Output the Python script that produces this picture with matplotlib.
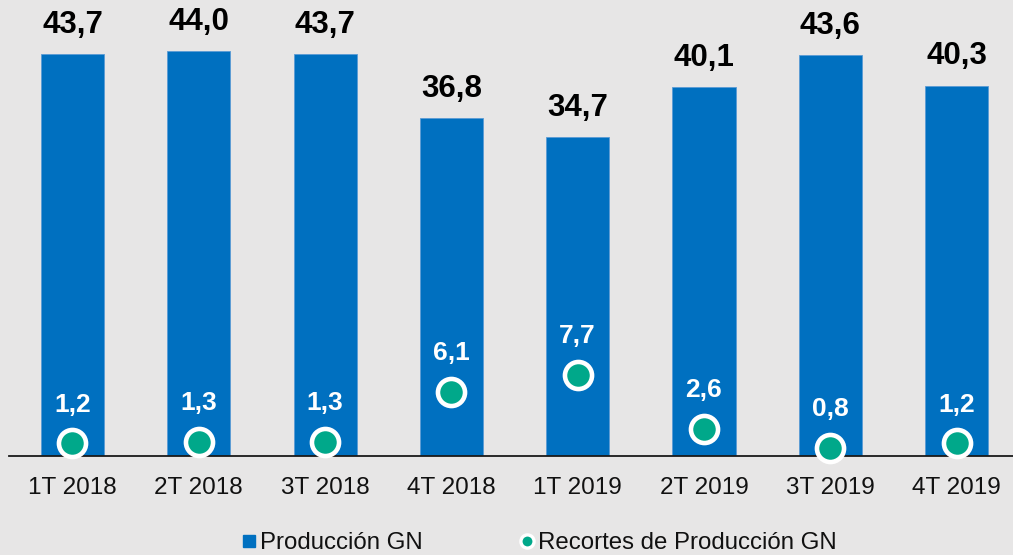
import matplotlib
matplotlib.use("Agg")
import matplotlib.pyplot as plt
from matplotlib.lines import Line2D

categories = ["1T 2018", "2T 2018", "3T 2018", "4T 2018", "1T 2019", "2T 2019", "3T 2019", "4T 2019"]
produccion = [43.7, 44.0, 43.7, 36.8, 34.7, 40.1, 43.6, 40.3]
recortes = [1.2, 1.3, 1.3, 6.1, 7.7, 2.6, 0.8, 1.2]
series_names = ["Producción GN", "Recortes de Producción GN"]

BG = "#E7E6E6"
BLUE = "#0070C0"
GREEN = "#00A88A"

plt.rcParams['font.family'] = ['Liberation Sans', 'DejaVu Sans']

def fmt(v):
    return f"{v:.1f}".replace(".", ",")

W, H = 1013, 555
fig = plt.figure(figsize=(W / 100, H / 100), dpi=100, facecolor=BG)
ax = fig.add_axes([9.35 / W, 99 / H, (W - 9.35) / W, 456 / H])
ax.set_facecolor(BG)
x = list(range(len(categories)))
ax.bar(x, produccion, width=0.5, color=BLUE, edgecolor="#5B9BD5", linewidth=0.6, zorder=2)
ax.set_xlim(-0.5, 7.447)
ax.set_ylim(0, 49.6)
for s in ["top", "left", "right"]:
    ax.spines[s].set_visible(False)
ax.spines["bottom"].set_color("#1a1a1a")
ax.spines["bottom"].set_linewidth(1.3)
ax.set_yticks([])
ax.set_xticks(x)
ax.set_xticklabels(categories, fontsize=17.5, color="#111111")
ax.tick_params(axis="x", length=0, pad=15)

for xi, v in zip(x, produccion):
    ax.annotate(fmt(v), (xi, v), xytext=(0, 21), textcoords="offset points",
                ha="center", va="center", fontsize=22.5, fontweight="bold", color="black")

ax2 = ax.twinx()
ax2.set_ylim(0, 43.4)
ax2.set_yticks([])
for s in ax2.spines.values():
    s.set_visible(False)
ax2.plot(x, recortes, linestyle="none", marker="o", markersize=19.5, markerfacecolor=GREEN,
         markeredgecolor="white", markeredgewidth=3.3, zorder=5, clip_on=False)
for xi, v in zip(x, recortes):
    ax2.annotate(fmt(v), (xi, v), xytext=(0, 28), textcoords="offset points",
                 ha="center", va="center", fontsize=19, fontweight="bold", color="white")

handles = [
    Line2D([], [], linestyle="none", marker="s", markersize=9, markerfacecolor=BLUE, markeredgecolor=BLUE),
    Line2D([], [], linestyle="none", marker="o", markersize=9.5, markerfacecolor=GREEN,
           markeredgecolor="white", markeredgewidth=2.4),
]
fig.legend(handles, series_names, loc="center", bbox_to_anchor=(537.5 / W, 12 / H), ncol=2,
           frameon=False, fontsize=17.3, handletextpad=0.0, columnspacing=3.9, handlelength=0.9,
           labelcolor="#111111", borderpad=0.1)

fig.savefig("out.png", dpi=100, facecolor=BG)
